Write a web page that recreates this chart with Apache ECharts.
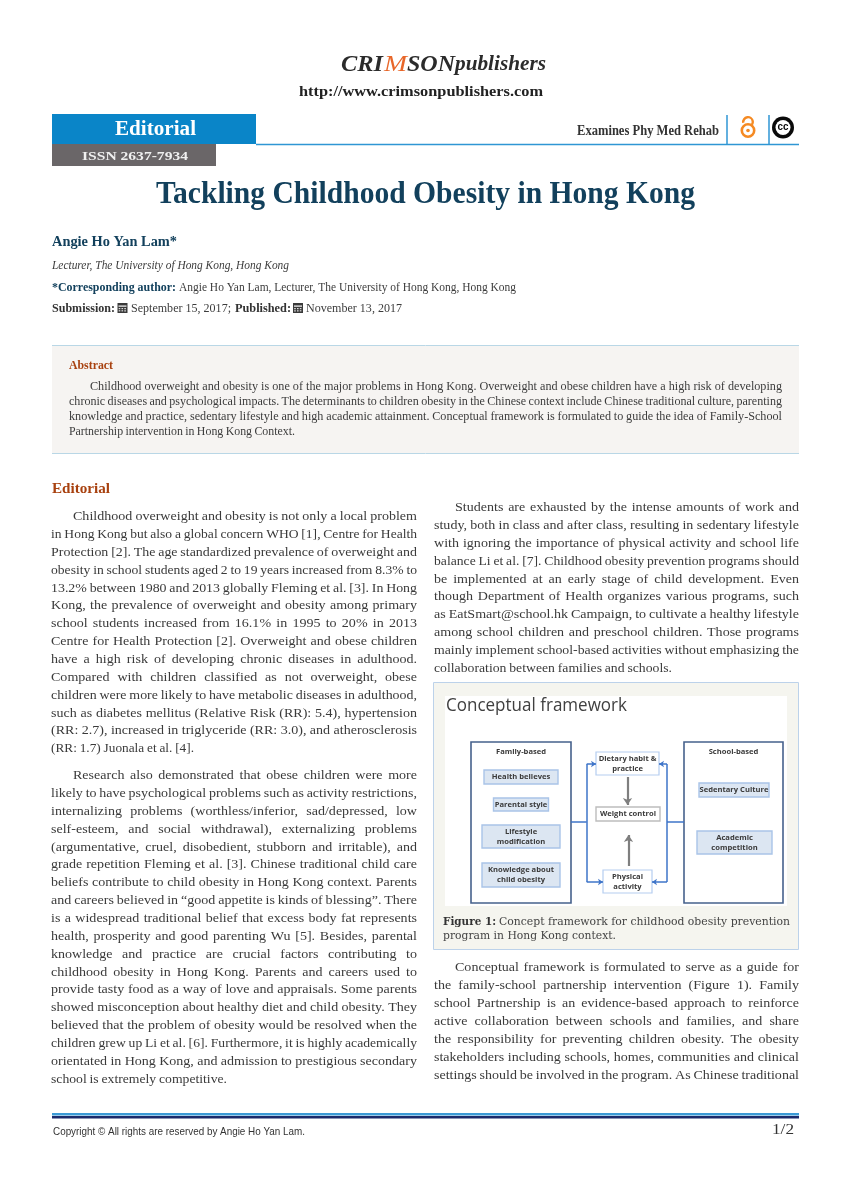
<!DOCTYPE html>
<html><head><meta charset="utf-8">
<style>html,body{margin:0;padding:0;background:#fff}#c{width:850px;height:1202px}</style>
<script src="https://cdn.jsdelivr.net/npm/echarts@6/dist/echarts.min.js"></script>
</head><body><div id="c"></div>
<script>
const abstractLines=[
"Childhood overweight and obesity is one of the major problems in Hong Kong. Overweight and obese children have a high risk of developing",
"chronic diseases and psychological impacts. The determinants to children obesity in the Chinese context include Chinese traditional culture, parenting",
"knowledge and practice, sedentary lifestyle and high academic attainment. Conceptual framework is formulated to guide the idea of Family-School",
"Partnership intervention in Hong Kong Context."];
const leftPara1=[
"Childhood overweight and obesity is not only a local problem",
"in Hong Kong but also a global concern WHO [1], Centre for Health",
"Protection [2]. The age standardized prevalence of overweight and",
"obesity in school students aged 2 to 19 years increased from 8.3% to",
"13.2% between 1980 and 2013 globally Fleming et al. [3]. In Hong",
"Kong, the prevalence of overweight and obesity among primary",
"school students increased from 16.1% in 1995 to 20% in 2013",
"Centre for Health Protection [2]. Overweight and obese children",
"have a high risk of developing chronic diseases in adulthood.",
"Compared with children classified as not overweight, obese",
"children were more likely to have metabolic diseases in adulthood,",
"such as diabetes mellitus (Relative Risk (RR): 5.4), hypertension",
"(RR: 2.7), increased in triglyceride (RR: 3.0), and atherosclerosis",
"(RR: 1.7) Juonala et al. [4]."];
const leftPara2=[
"Research also demonstrated that obese children were more",
"likely to have psychological problems such as activity restrictions,",
"internalizing problems (worthless/inferior, sad/depressed, low",
"self-esteem, and social withdrawal), externalizing problems",
"(argumentative, cruel, disobedient, stubborn and irritable), and",
"grade repetition Fleming et al. [3]. Chinese traditional child care",
"beliefs contribute to child obesity in Hong Kong context. Parents",
"and careers believed in “good appetite is kinds of blessing”. There",
"is a widespread traditional belief that excess body fat represents",
"health, prosperity and good parenting Wu [5]. Besides, parental",
"knowledge and practice are crucial factors contributing to",
"childhood obesity in Hong Kong. Parents and careers used to",
"provide tasty food as a way of love and appraisals. Some parents",
"showed misconception about healthy diet and child obesity. They",
"believed that the problem of obesity would be resolved when the",
"children grew up Li et al. [6]. Furthermore, it is highly academically",
"orientated in Hong Kong, and admission to prestigious secondary",
"school is extremely competitive."];
const rightPara1=[
"Students are exhausted by the intense amounts of work and",
"study, both in class and after class, resulting in sedentary lifestyle",
"with ignoring the importance of physical activity and school life",
"balance Li et al. [7]. Childhood obesity prevention programs should",
"be implemented at an early stage of child development. Even",
"though Department of Health organizes various programs, such",
"as EatSmart@school.hk Campaign, to cultivate a healthy lifestyle",
"among school children and preschool children. Those programs",
"mainly implement school-based activities without emphasizing the",
"collaboration between families and schools."];
const rightPara2=[
"Conceptual framework is formulated to serve as a guide for",
"the family-school partnership intervention (Figure 1). Family",
"school Partnership is an evidence-based approach to reinforce",
"active collaboration between schools and families, and share",
"the responsibility for preventing children obesity. The obesity",
"stakeholders including schools, homes, communities and clinical",
"settings should be involved in the program. As Chinese traditional"];

const familyNodes=["Health believes","Parental style","Lifestyle\nmodification","Knowledge about\nchild obesity"];
const centerNodes=["Dietary habit &\npractice","Weight control","Physical\nactivity"];
const schoolNodes=["Sedentary Culture","Academic\ncompetition"];
const boxTitles=["Family-based","School-based"];

const SERIF='"Liberation Serif",serif', SANS='"Open Sans",sans-serif';
const ctx=document.createElement('canvas').getContext('2d');
const g=[];
function font(o){return `${o.style||'normal'} ${o.weight||'normal'} ${o.size||13}px ${o.fam||SERIF}`;}
function T(text,x,y,w,o){o=o||{};
  ctx.font=font(o);
  const m=ctx.measureText(text).width;
  g.push({type:'text',x:x,y:y,scaleX:w?w/m:1,silent:true,z:o.z||5,
    style:{text:text,fontSize:o.size||13,fontWeight:o.weight||'normal',fontStyle:o.style||'normal',fontFamily:o.fam||SERIF,fill:o.fill||'#3c3c3c',textAlign:'left',textVerticalAlign:'middle'}});
}
// justified line: words keep one scale, only the gaps stretch
function J(text,x,y,w,o){
  ctx.font=font(o);
  const words=text.split(' ');
  const ws=words.map(t=>ctx.measureText(t).width);
  const sum=ws.reduce((a,b)=>a+b,0);
  const minGap=o.minGap||2.8;
  let k=o.scale||1.08;
  if(sum*k+minGap*(words.length-1)>w) k=(w-minGap*(words.length-1))/sum;
  const gap=(w-sum*k)/(words.length-1);
  let cx=x;
  words.forEach((t,i)=>{T(t,cx,y,ws[i]*k,o);cx+=ws[i]*k+gap;});
}
function R(x,y,w,h,fill,o){o=o||{};g.push({type:'rect',silent:true,z:o.z||1,shape:{x,y,width:w,height:h},style:{fill:fill,stroke:o.stroke||null,lineWidth:o.lw||0}});}
function L(x1,y1,x2,y2,c,lw){g.push({type:'line',silent:true,z:2,shape:{x1,y1,x2,y2},style:{stroke:c,lineWidth:lw}});}
function para(lines,x,right,indent,y0,step,lastEnd,o){
  lines.forEach((t,i)=>{
    const sx=i===0?x+indent:x, y=y0+i*step;
    if(i===lines.length-1&&lastEnd) J(t,sx,y,lastEnd-sx,o);
    else J(t,sx,y,right-sx,o);
  });
}
function calendar(x,y){
  R(x,y,10,10,'#3a3a3a',{z:3});
  R(x+1,y+2.5,8,1.2,'#fff',{z:4});
  [5,7.2].forEach(d=>{for(let i=0;i<3;i++)R(x+1.2+i*2.8,y+d,1.6,1.2,'#ddd',{z:4});});
}

// logo + header
T('CRI',341,64.5,42,{size:24,weight:'bold',style:'italic',fill:'#2b2b2b'});
T('M',384,64.5,23,{size:24,style:'italic',fill:'#e8672a'});
T('SON',407,64.5,48,{size:24,weight:'bold',style:'italic',fill:'#2b2b2b'});
T('publishers',455,65,91,{size:21,weight:'bold',style:'italic',fill:'#2b2b2b'});
T('http://www.crimsonpublishers.com',299,92,244,{size:15,weight:'bold',fill:'#222'});
R(52,114,204,30,'#0a85c8');
R(52,144,164,22,'#6a6668');
L(256,144.5,799,144.5,'#2f96d4',1.5);
L(727,115,727,144,'#2f96d4',1.5);
L(769,115,769,144,'#2f96d4',1.5);
T('Editorial',115,130,81,{size:20,weight:'bold',fill:'#fff'});
T('ISSN 2637-7934',82,157,106,{size:13.5,weight:'bold',fill:'#f0f0f0'});
T('Examines Phy Med Rehab',577,131.5,142,{size:14,weight:'bold',fill:'#333'});
// open access icon
g.push({type:'circle',silent:true,z:3,shape:{cx:748,cy:130.5,r:6.2},style:{fill:'none',stroke:'#f58a23',lineWidth:2.6}});
g.push({type:'circle',silent:true,z:3,shape:{cx:748,cy:130.5,r:1.8},style:{fill:'#f58a23'}});
g.push({type:'arc',silent:true,z:3,shape:{cx:748,cy:122,r:4.8,startAngle:Math.PI*0.95,endAngle:Math.PI*2.2,clockwise:true},style:{fill:'none',stroke:'#f58a23',lineWidth:2.4}});
// cc icon
g.push({type:'circle',silent:true,z:3,shape:{cx:783,cy:127.5,r:11},style:{fill:'#0a0a0a'}});
g.push({type:'circle',silent:true,z:3,shape:{cx:783,cy:127.5,r:7.5},style:{fill:'#fff'}});
T('cc',777.5,127.5,11,{size:10,weight:'bold',fam:'"Liberation Sans",sans-serif',fill:'#0a0a0a',z:4});
// title block
T('Tackling Childhood Obesity in Hong Kong',156,195,539,{size:31,weight:'bold',fill:'#12405c'});
T('Angie Ho Yan Lam*',52,242,125,{size:14.5,weight:'bold',fill:'#12405c'});
T('Lecturer, The University of Hong Kong, Hong Kong',52,265.5,237,{size:12,style:'italic'});
T('*Corresponding author:',52,287.5,124,{size:12,weight:'bold',fill:'#12405c'});
T('Angie Ho Yan Lam, Lecturer, The University of Hong Kong, Hong Kong',179,287.5,337,{size:12});
T('Submission:',52,308.5,63,{size:12,weight:'bold',fill:'#333'});
calendar(117.5,303);
T('September 15, 2017;',131,308.5,100,{size:12});
T('Published:',235,308.5,56,{size:12,weight:'bold',fill:'#333'});
calendar(293,303);
T('November 13, 2017',306,308.5,96,{size:12});
// abstract
R(52,346,747,107,'#f6f4f2');
L(52,345.5,799,345.5,'#b9d7e6',1);
L(52,453.5,799,453.5,'#b9d7e6',1);
T('Abstract',69,366,44,{size:11.5,weight:'bold',fill:'#a8410f'});
para(abstractLines,69,782,21,387.3,15,295,{size:11.6,scale:1.05,minGap:2.4});
// body
T('Editorial',52,489.5,58,{size:15,weight:'bold',fill:'#a8410f'});
const body={size:13,fill:'#3a3a3a'};
para(leftPara1,51,417,22,516.6,17.87,194,body);
para(leftPara2,51,417,22,775.6,17.87,227,body);
para(rightPara1,434,799,21,507.6,17.87,672,body);
para(rightPara2,434,799,21,967.6,17.98,null,body);
// figure
R(433.5,682.5,365,267,'#f5f5ef',{stroke:'#bcd2ea',lw:1});
R(445,696,342,210,'#ffffff',{z:2});
T('Conceptual framework',446,706,181,{size:19,fam:SANS,fill:'#404040'});
const DJ='"DejaVu Serif",serif';
T('Figure 1:',443,922,53,{size:10.5,weight:'bold',fam:DJ,fill:'#333'});
T('Concept framework for childhood obesity prevention',499,922,291,{size:10.5,fam:DJ,fill:'#444'});
T('program in Hong Kong context.',443,936,173,{size:10.5,fam:DJ,fill:'#444'});
// footer
R(52,1113,747,2.4,'#3b9ad6');
R(52,1116,747,2.4,'#1b2a6b');
T('Copyright © All rights are reserved by Angie Ho Yan Lam.',53,1132,252,{size:10.5,fam:'"Liberation Sans",sans-serif',fill:'#333'});
T('1/2',772,1130,22,{size:14,fill:'#333'});
// underlines of the box titles
L(499,753,544,753,'#555',0.8);
L(712,753,756,753,'#555',0.8);

// diagram boxes: label, cx, cy, w, h, style, top-label
const blue={fill:'#dce6f2',stroke:'#a9c4e8',lineWidth:1.4};
const white={fill:'#fff',stroke:'#b5cdf0',lineWidth:1.2};
const grey={fill:'#fff',stroke:'#bdbdbd',lineWidth:1.4};
const frame={fill:'#fff',stroke:'#46618c',lineWidth:1.6};
const placed=[
 [boxTitles[0],521,822.5,100,161,frame,1],
 [boxTitles[1],733.5,822.5,99,161,frame,1],
 [familyNodes[0],521,777,74,14,blue],
 [familyNodes[1],521,804.5,55,13,blue],
 [familyNodes[2],521,836.5,78,23,blue],
 [familyNodes[3],521,875,78,24,blue],
 [centerNodes[0],627.5,763.5,63,23,white],
 [centerNodes[1],628,814,64,14,grey],
 [centerNodes[2],627.5,881.5,49,23,white],
 [schoolNodes[0],734,790,70,14,blue],
 [schoolNodes[1],734.5,842.5,75,23,blue]
];
const anchors={aL:[586.7,822],aF:[571,822],aLt:[586.7,764],aLb:[586.7,882],aDl:[596,764],aPl:[603,882],
 aR:[667,822],aS:[684,822],aRt:[667,764],aRb:[667,882],aDr:[659,764],aPr:[652,882],
 aD1:[627.5,777],aD2:[627.5,805],aP1:[628.5,866],aP2:[628.5,835]};
const nodes=Object.keys(anchors).map(k=>({name:k,value:anchors[k],symbol:'none',symbolSize:0,label:{show:false}}));
const bl={color:'#3e74c9',width:1.5,curveness:0,opacity:1},gr={color:'#7f7f7f',width:2.2,curveness:0,opacity:1};
const plain=(s,t)=>({source:s,target:t,lineStyle:bl,symbol:['none','none']});
const arrow=(s,t,st,sz)=>({source:s,target:t,lineStyle:st,symbol:['none','arrow'],symbolSize:sz});
const links=[plain('aF','aL'),plain('aLt','aLb'),plain('aS','aR'),plain('aRt','aRb'),
 arrow('aLt','aDl',bl,5),arrow('aLb','aPl',bl,5),arrow('aRt','aDr',bl,5),arrow('aRb','aPr',bl,5),
 arrow('aD1','aD2',gr,7),arrow('aP1','aP2',gr,7)];

const chart=echarts.init(document.getElementById('c'),null,{renderer:'canvas',width:850,height:1202});
chart.setOption({
 animation:false,backgroundColor:'#fff',
 grid:{left:0,right:0,top:0,bottom:0},
 xAxis:{type:'value',min:0,max:850,show:false},
 yAxis:{type:'value',min:0,max:1202,inverse:true,show:false},
 tooltip:{show:false},
 graphic:{elements:g},
 series:[
  {type:'custom',coordinateSystem:'cartesian2d',silent:true,z:8,clip:false,
   data:placed.map((p,i)=>[p[1],p[2],i]),
   renderItem:function(params,api){
     const p=placed[api.value(2)];
     const c=api.coord([p[1],p[2]]);
     const x=c[0]-p[3]/2,y=c[1]-p[4]/2;
     return {type:'group',children:[
       {type:'rect',shape:{x:x,y:y,width:p[3],height:p[4]},style:p[5]},
       {type:'text',x:c[0],y:p[6]?y+10:c[1],style:{text:p[0],fontFamily:SANS,fontWeight:'bold',fontSize:7.6,lineHeight:10,fill:'#3a3a3a',align:'center',verticalAlign:'middle'}}
     ]};
   }},
  {type:'graph',coordinateSystem:'cartesian2d',layout:'none',silent:true,z:10,
   data:nodes,links:links,edgeSymbol:['none','none'],emphasis:{disabled:true}}]
});
</script></body></html>
